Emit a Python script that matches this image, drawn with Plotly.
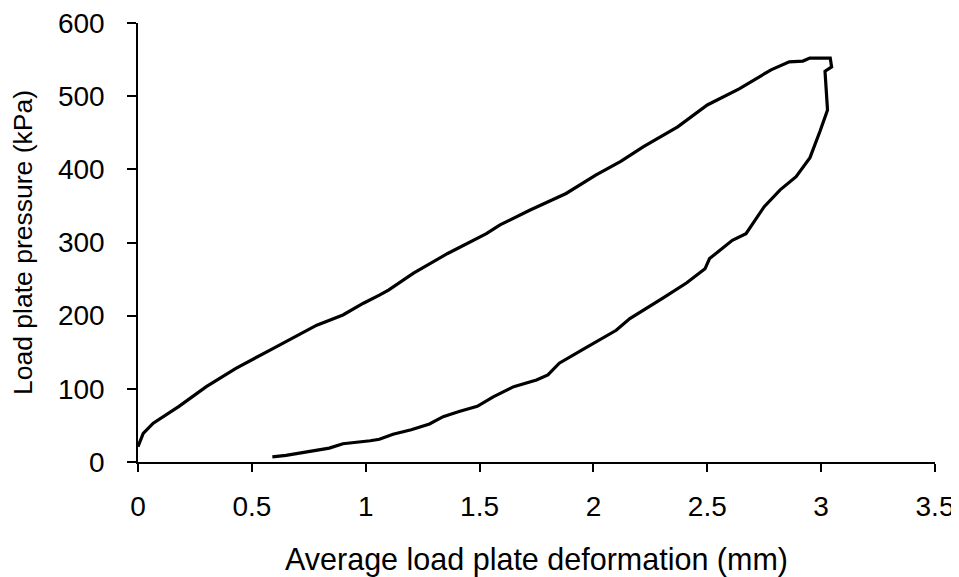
import plotly.graph_objects as go

# loading branch then unloading branch (one continuous loop)
deformation = [0.0, 0.023, 0.067, 0.18, 0.30, 0.43, 0.58, 0.70, 0.785, 0.90, 0.99, 1.06, 1.10,
               1.21, 1.36, 1.53, 1.59, 1.72, 1.88, 2.01, 2.12, 2.22, 2.37, 2.50, 2.64, 2.78,
               2.86, 2.92, 2.95, 3.04, 3.046, 3.017, 3.02, 3.028,
               2.995, 2.951, 2.89, 2.82, 2.75, 2.70, 2.67, 2.61, 2.51, 2.49, 2.41, 2.31, 2.22,
               2.16, 2.10, 2.03, 1.96, 1.85, 1.80, 1.75, 1.65, 1.56, 1.49, 1.41, 1.34, 1.28,
               1.20, 1.12, 1.06, 1.02, 0.90, 0.84, 0.71, 0.65, 0.59]
pressure = [21, 39, 53, 76, 103, 128, 153, 173, 187, 201, 217, 228, 235,
            258, 285, 312, 324, 344, 367, 392, 411, 431, 458, 488, 510, 536,
            547, 548, 552, 552, 540, 534, 513, 481,
            452, 416, 390, 372, 349, 327, 312, 303, 278, 264, 245, 225, 207,
            196, 180, 167, 155, 135, 119, 112, 103, 89, 76, 69, 62, 52,
            44, 38, 31, 29, 25, 19, 12, 9, 7]

fig = go.Figure()
fig.add_trace(go.Scatter(x=deformation, y=pressure, mode="lines",
                         line=dict(color="black", width=3.2), showlegend=False))

# page body has an 8px margin, so the figure is sized a little smaller
fig.update_layout(
    width=951, height=569,
    margin=dict(l=130, r=24, t=15, b=115),
    plot_bgcolor="white", paper_bgcolor="white",
    font=dict(family="Liberation Sans, Arial, sans-serif", size=26, color="black"),
)

fig.update_xaxes(range=[0, 3.5], dtick=0.5, showline=True, linecolor="black", linewidth=1.5,
                 ticks="outside", ticklen=8, tickwidth=1.5, tickcolor="black",
                 showgrid=False, zeroline=False, ticklabelstandoff=11, automargin=False,
                 ticklabeloverflow="allow", tickfont=dict(size=28),
                 title=dict(text="Average load plate deformation (mm)", standoff=28,
                            font=dict(size=30.5)))
fig.update_yaxes(range=[0, 600], dtick=100, showline=True, linecolor="black", linewidth=1.5,
                 ticks="outside", ticklen=9, tickwidth=1.5, tickcolor="black",
                 showgrid=False, zeroline=False, ticklabelstandoff=17, automargin=False,
                 ticklabeloverflow="allow", tickfont=dict(size=28),
                 title=dict(text="Load plate pressure (kPa)", standoff=21,
                            font=dict(size=26.5)))

fig.write_html("out.html")
